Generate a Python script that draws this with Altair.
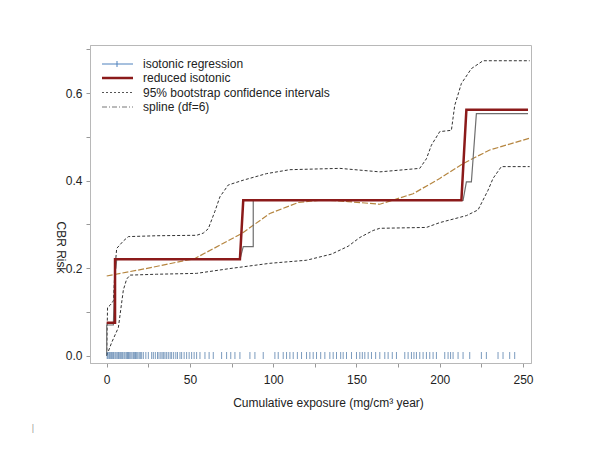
import altair as alt
import pandas as pd

# ---- data ----
iso_x = [0, 0, 4, 5, 5.5, 6, 80, 82, 88, 88, 214, 216, 219, 222, 253]
iso_y = [0, 0.07, 0.07, 0.2, 0.2, 0.22, 0.22, 0.249, 0.249, 0.355, 0.355, 0.397, 0.397, 0.553, 0.553]

red_x = [0, 5, 5, 80, 82, 213, 216, 253]
red_y = [0.075, 0.075, 0.22, 0.22, 0.355, 0.355, 0.562, 0.562]

up_x = [0, 0.5, 2, 4, 5, 6, 10, 13, 30, 54, 58, 61, 65, 68, 73, 82, 96, 110, 140, 164, 188, 192, 195, 200, 207, 209, 213, 219, 226, 254]
up_y = [0, 0.11, 0.115, 0.125, 0.2, 0.245, 0.262, 0.272, 0.274, 0.275, 0.28, 0.29, 0.33, 0.363, 0.39, 0.401, 0.416, 0.425, 0.428, 0.42, 0.428, 0.45, 0.481, 0.512, 0.515, 0.572, 0.622, 0.656, 0.674, 0.674]

lo_x = [0, 3, 7, 10, 12, 14, 30, 54, 74, 98, 120, 135, 145, 152, 160, 164, 192, 200, 216, 223, 229, 232, 237, 254]
lo_y = [0, 0.03, 0.064, 0.15, 0.175, 0.184, 0.186, 0.188, 0.199, 0.211, 0.218, 0.232, 0.25, 0.27, 0.286, 0.291, 0.293, 0.304, 0.32, 0.333, 0.378, 0.405, 0.432, 0.432]

sp_x = [0, 25, 53, 81, 98, 115, 130, 145, 164, 184, 200, 214, 230, 254]
sp_y = [0.182, 0.2, 0.222, 0.279, 0.325, 0.35, 0.356, 0.352, 0.346, 0.37, 0.405, 0.439, 0.47, 0.497]

rug_x = [0.3, 0.8, 1.5, 2, 2.6, 3.1, 3.7, 4.2, 5, 5.6, 6.3, 7, 7.5, 8.2, 9, 9.6, 10.4, 11,
         11.8, 12.5, 13.1, 13.8, 14.5, 15.2, 16, 16.6, 17.3, 18, 18.7, 19.5, 20.2, 21, 22,
         23.5, 25, 27, 28, 29.2, 30.5, 31.4, 32.5, 33.3, 34.2, 35, 36, 37, 38.1, 39, 40.2,
         41.5, 42.5, 44, 45, 46.5, 48, 49.5, 51, 52.5, 54, 56, 59, 61.5, 64, 69, 72, 74.5,
         77, 80, 86, 89, 94, 101, 103, 106, 108, 110, 112, 114.5, 117, 120, 122, 124, 126,
         128.5, 131, 134, 136, 138, 140.5, 142, 144, 147, 150, 152, 153.5, 155, 157, 159,
         161.5, 164, 167, 169, 171.5, 174, 179, 181, 183, 184.5, 186, 188, 190, 192, 194,
         196, 198, 203, 205, 206.5, 208, 211, 214, 218, 225, 228, 235, 238, 242, 245]

legend_labels = ["isotonic regression", "reduced isotonic",
                 "95% bootstrap confidence intervals", "spline (df=6)"]

x_ticks = [0, 25, 50, 75, 100, 125, 150, 175, 200, 225, 250]
y_ticks = [0, 0.1, 0.2, 0.3, 0.4, 0.5, 0.6, 0.7]

FONT = "Liberation Sans"
XS = alt.Scale(domain=[-10.03, 254.8], nice=False, zero=False)
YS = alt.Scale(domain=[-0.0169, 0.71], nice=False, zero=False)


def series(xs, ys):
    return pd.DataFrame({"x": xs, "y": ys, "i": list(range(len(xs)))})


def line(df, color, width, dash=None, first=False):
    kw = dict(color=color, strokeWidth=width)
    if dash:
        kw["strokeDash"] = dash
    if first:
        xenc = alt.X("x:Q", scale=XS, axis=alt.Axis(
            values=x_ticks, title="Cumulative exposure (mg/cm³ year)",
            labelExpr="datum.value % 50 == 0 ? datum.label : ''",
            titleX=238, titleY=39, titleBaseline="middle", titleAlign="center",
            labelPadding=7, tickSize=4, grid=False))
        yenc = alt.Y("y:Q", scale=YS, axis=alt.Axis(
            values=y_ticks, title="CBR Risk",
            labelExpr="round(datum.value*10) % 2 == 0 ? format(datum.value, '.1f') : ''",
            titleAngle=90, titleX=-30, titleY=202, titleAlign="center", titleBaseline="middle",
            labelPadding=4, tickSize=4, grid=False))
    else:
        xenc = alt.X("x:Q", scale=XS)
        yenc = alt.Y("y:Q", scale=YS)
    return alt.Chart(df).mark_line(**kw).encode(x=xenc, y=yenc, order="i:Q")


rug = alt.Chart(pd.DataFrame({"x": rug_x, "y": [0] * len(rug_x)})).mark_tick(
    orient="vertical", size=7, thickness=1, color="#4f7aa8", opacity=0.75
).encode(x=alt.X("x:Q", scale=XS), y=alt.Y("y:Q", scale=YS))

layers = [
    line(series(up_x, up_y), "#333333", 1, [3, 2], first=True),
    line(series(lo_x, lo_y), "#333333", 1, [3, 2]),
    line(series(sp_x, sp_y), "#b5853f", 1.2, [6, 2]),
    line(series(iso_x, iso_y), "#6e6e6e", 1.2),
    line(series(red_x, red_y), "#8b1a1a", 2.5),
    rug,
]

# ---- manual legend (top-left, inside the frame) ----
leg_y = [19, 33, 47.5, 62]
leg = pd.DataFrame({"label": legend_labels, "py": leg_y,
                    "x1": [12] * 4, "x2": [43] * 4, "tx": [53] * 4})
leg_styles = [("#4f81bd", 1, None), ("#8b1a1a", 2.5, None), ("#555555", 1, [2, 2]), ("#777777", 1, [5, 2, 1, 2])]
for k, (c, w, d) in enumerate(leg_styles):
    kw = dict(color=c, strokeWidth=w)
    if d:
        kw["strokeDash"] = d
    layers.append(alt.Chart(leg.iloc[[k]]).mark_rule(**kw).encode(
        x=alt.X("x1:Q", scale=None), x2="x2:Q", y=alt.Y("py:Q", scale=None)))
layers.append(alt.Chart(leg.iloc[[0]]).mark_rule(color="#4f81bd", strokeWidth=1).encode(
    x=alt.value(27), y=alt.value(16), y2=alt.value(22)))
layers.append(alt.Chart(leg).mark_text(align="left", baseline="middle", fontSize=12,
                                       font=FONT, color="#222222").encode(
    x=alt.X("tx:Q", scale=None), y=alt.Y("py:Q", scale=None), text="label:N"))

# tiny stray mark at lower-left of the reference
layers.append(alt.Chart(pd.DataFrame({"t": ["|"]})).mark_text(
    fontSize=9, color="#999999", font=FONT).encode(x=alt.value(-57), y=alt.value(383), text="t:N"))

chart = alt.layer(*layers).properties(
    width=441, height=318,
    autosize=alt.AutoSizeParams(type="none"),
    padding={"left": 82, "top": 37, "right": 50, "bottom": 70},
).configure_view(stroke="#b8b8b8", strokeWidth=1).configure_axis(
    domainColor="#b8b8b8", tickColor="#999999", labelFont=FONT, titleFont=FONT,
    labelFontSize=12, titleFontSize=12, labelColor="#222222", titleColor="#222222",
    titleFontWeight="normal"
)

chart.save("out.html", embed_options={"renderer": "svg", "actions": False})
